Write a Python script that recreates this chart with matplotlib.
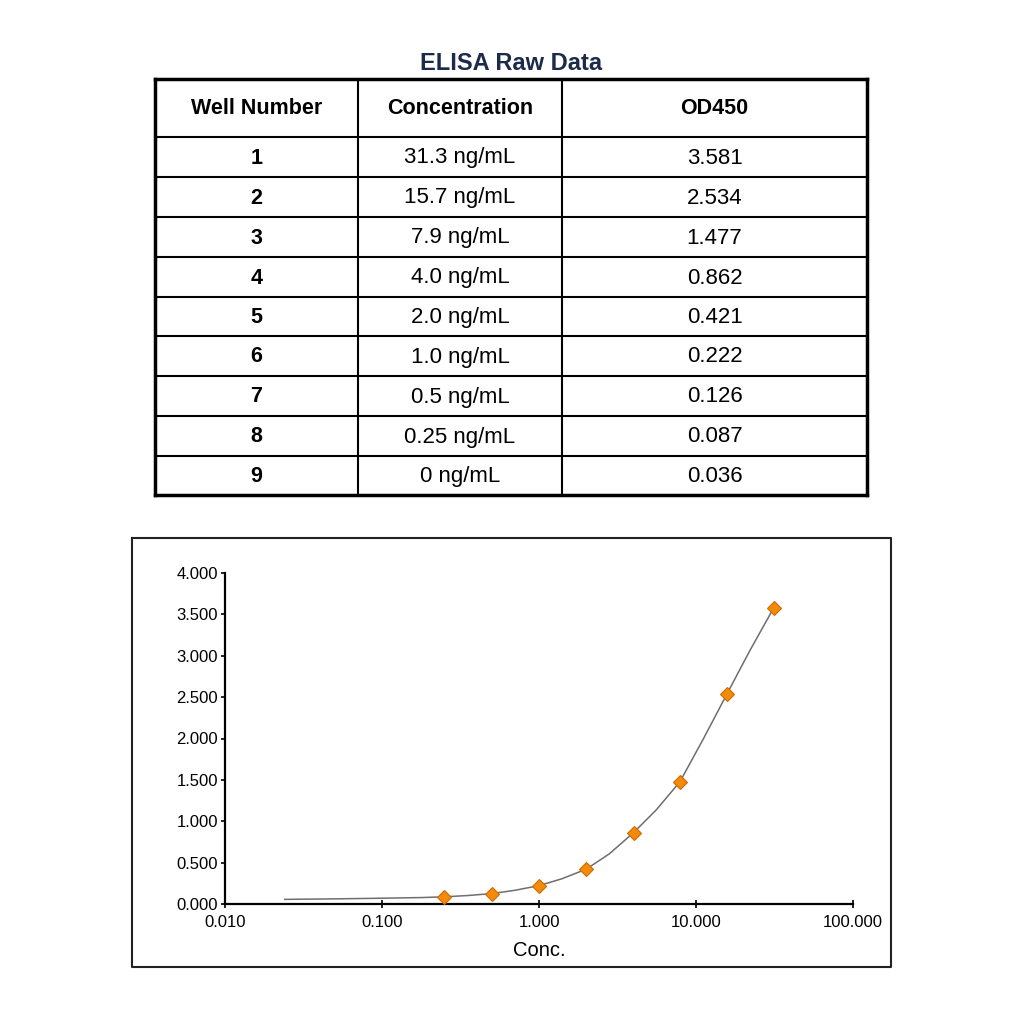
import numpy as np
import matplotlib.pyplot as plt
from matplotlib.ticker import FixedLocator, FormatStrFormatter

plt.rcParams['font.family'] = ['Liberation Sans', 'DejaVu Sans']

# table data
headers = ['Well Number', 'Concentration', 'OD450']
wells = ['1', '2', '3', '4', '5', '6', '7', '8', '9']
conc_labels = ['31.3 ng/mL', '15.7 ng/mL', '7.9 ng/mL', '4.0 ng/mL', '2.0 ng/mL',
               '1.0 ng/mL', '0.5 ng/mL', '0.25 ng/mL', '0 ng/mL']
od_labels = ['3.581', '2.534', '1.477', '0.862', '0.421', '0.222', '0.126', '0.087', '0.036']

# standard points (zero standard can't go on a log axis)
conc = [31.3, 15.7, 7.9, 4.0, 2.0, 1.0, 0.5, 0.25]
od = [3.581, 2.534, 1.477, 0.862, 0.421, 0.222, 0.126, 0.087]

# fitted curve
curve_conc = [0.024, 0.05, 0.1, 0.18, 0.25, 0.35, 0.5, 0.7, 1.0, 1.4, 2.0, 2.8, 4.0,
              5.6, 7.9, 11.1, 15.7, 22.0, 31.3]
curve_od = [0.056, 0.062, 0.070, 0.078, 0.087, 0.102, 0.126, 0.165, 0.222, 0.305, 0.421,
            0.605, 0.862, 1.140, 1.477, 1.990, 2.534, 3.060, 3.581]

fig = plt.figure(figsize=(10.24, 10.24), dpi=100)

# background axes in pixel units for the table and the frame
bg = fig.add_axes([0, 0, 1, 1])
bg.set_xlim(0, 1024)
bg.set_ylim(1024, 0)
bg.axis('off')

navy = '#1c2b4a'
bg.text(511, 64, 'ELISA Raw Data', ha='center', va='center', fontsize=17,
        fontweight='bold', color=navy)

x0, x1 = 155, 867
col_edges = [155, 358, 562, 867]
row_edges = [79, 137, 177, 217, 257, 297, 336, 376, 416, 456, 495]

# grid lines
for r in row_edges:
    lw = 2.5 if r in (row_edges[0], row_edges[-1]) else 1.5
    bg.plot([x0, x1], [r, r], color='black', lw=lw, solid_capstyle='projecting')
for c in col_edges:
    lw = 2.5 if c in (col_edges[0], col_edges[-1]) else 1.5
    bg.plot([c, c], [row_edges[0], row_edges[-1]], color='black', lw=lw, solid_capstyle='projecting')

centers = [(col_edges[i] + col_edges[i + 1]) / 2 for i in range(3)]
hy = (row_edges[0] + row_edges[1]) / 2
for cx, h in zip(centers, headers):
    bg.text(cx, hy + 1, h, ha='center', va='center', fontsize=15.5, fontweight='bold')

for i in range(len(wells)):
    ry = (row_edges[i + 1] + row_edges[i + 2]) / 2 + 1
    bg.text(centers[0], ry, wells[i], ha='center', va='center', fontsize=15.5, fontweight='bold')
    bg.text(centers[1], ry, conc_labels[i], ha='center', va='center', fontsize=16)
    bg.text(centers[2], ry, od_labels[i], ha='center', va='center', fontsize=16)

# frame around the plot
bg.plot([132, 891, 891, 132, 132], [538, 538, 967, 967, 538], color='#222222', lw=1.5)

# the chart
W = 1024.0
ax = fig.add_axes([225 / W, (W - 904) / W, (853 - 225) / W, (904 - 573) / W])
ax.plot(curve_conc, curve_od, color='#6e6e6e', lw=1.1, zorder=2)
ax.plot(conc, od, linestyle='none', marker='D', markersize=7.5,
        markerfacecolor='#f28a0c', markeredgecolor='#d06a00', markeredgewidth=0.8, zorder=3)

ax.set_xscale('log')
ax.set_xlim(0.01, 100)
ax.set_ylim(0, 4)
ax.xaxis.set_major_locator(FixedLocator([0.01, 0.1, 1, 10, 100]))
ax.xaxis.set_minor_locator(FixedLocator([]))
ax.xaxis.set_major_formatter(FormatStrFormatter('%.3f'))
ax.set_yticks(np.arange(0, 4.01, 0.5))
ax.yaxis.set_major_formatter(FormatStrFormatter('%.3f'))
for s in ['top', 'right']:
    ax.spines[s].set_visible(False)
for s in ['left', 'bottom']:
    ax.spines[s].set_linewidth(1.6)
ax.tick_params(axis='both', labelsize=12, width=1.2)
ax.tick_params(axis='x', direction='inout', length=6, pad=5)
ax.tick_params(axis='y', length=3, pad=2)
ax.set_xlabel('Conc.', fontsize=14.5, labelpad=8)

fig.savefig('out.png', dpi=100, facecolor='white')
